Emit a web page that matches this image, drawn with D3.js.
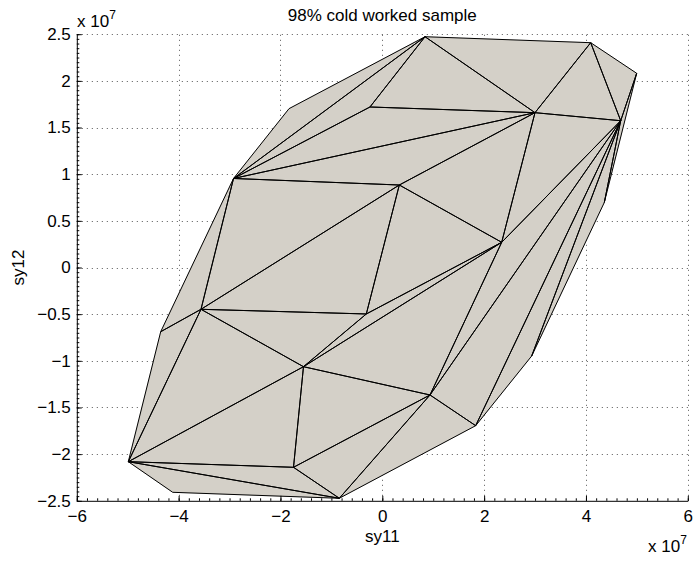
<!DOCTYPE html>
<html>
<head>
<meta charset="utf-8">
<script src="https://cdn.jsdelivr.net/npm/d3@7"></script>
<style>
  body { margin: 0; background: #fff; }
  svg { display: block; font-family: "Liberation Sans", Arial, Helvetica, sans-serif; }
</style>
</head>
<body>
<svg id="chart" width="694" height="561"></svg>
<script>
// ---- data (units of 1e7) ----
const vertexNames = ["A","B","C","D","E","F","G","H","I","J","K","L","M","N","O","P","Q","R","S","T","U","V"];
const sy11 = [0.839, 4.093, 4.996, 4.682, 2.999, -0.242, -1.832, -2.922, 0.334, 2.345, 4.360,
              -4.352, -3.561, -0.314, -1.548, 0.937, 2.934, 1.834, -4.988, -4.116, -1.744, -0.844];
const sy12 = [2.473, 2.409, 2.081, 1.573, 1.659, 1.720, 1.702, 0.954, 0.884, 0.270, 0.697,
              -0.688, -0.448, -0.498, -1.063, -1.366, -0.948, -1.695, -2.081, -2.409, -2.141, -2.473];
const triangles = [
  "ABE","AEF","AFH","AHG","FEH","HEI","EIJ","BCD","BDE","DEJ","DJP","DPR","DRQ","DQK","DKC",
  "HIM","HML","IMN","INJ","NJO","MNO","MOS","MSL","OJP","OPU","OUS","USV","SVT","UPV","PVR"
];
const xTicks = [-6, -4, -2, 0, 2, 4, 6];
const yTicks = [-2.5, -2, -1.5, -1, -0.5, 0, 0.5, 1, 1.5, 2, 2.5];
const titleText = "98% cold worked sample";
const xLabel = "sy11";
const yLabel = "sy12";

// ---- layout ----
const L = 76.8, R = 687.8, T = 34.2, B = 500.8;
const FS = 17;
const x = d3.scaleLinear().domain([-6, 6]).range([L, R]);
const y = d3.scaleLinear().domain([-2.5, 2.5]).range([B, T]);
const svg = d3.select("#chart");
const fmt = v => (v < 0 ? "\u2212" : "") + String(Math.abs(v));

// grid (dotted)
const grid = svg.append("g").attr("stroke", "#555").attr("stroke-width", 1)
  .attr("stroke-dasharray", "1,4");
grid.selectAll("line.gx").data(xTicks.filter(t => t > -6)).enter().append("line")
  .attr("x1", d => Math.round(x(d)) + 0.5).attr("x2", d => Math.round(x(d)) + 0.5)
  .attr("y1", B).attr("y2", T);
grid.selectAll("line.gy").data(yTicks.filter(t => t > -2.5)).enter().append("line")
  .attr("y1", d => Math.round(y(d)) + 0.5).attr("y2", d => Math.round(y(d)) + 0.5)
  .attr("x1", L).attr("x2", R);

// surface
const idx = n => vertexNames.indexOf(n);
const triPts = triangles.map(t => t.split("").map(c => [x(sy11[idx(c)]), y(sy12[idx(c)])]));
const line = d3.line().curve(d3.curveLinearClosed);
svg.append("g").selectAll("path").data(triPts).enter().append("path")
  .attr("d", d => line(d)).attr("fill", "#d4d0c8").attr("stroke", "#d4d0c8").attr("stroke-width", 0.6);
svg.append("g").selectAll("path").data(triPts).enter().append("path")
  .attr("d", d => line(d)).attr("fill", "none").attr("stroke", "#000")
  .attr("stroke-width", 1).attr("stroke-linejoin", "round");

// axes (MATLAB-like: inward ticks, minor ticks)
const xAxis = d3.axisBottom(x).tickValues(xTicks).tickFormat(fmt).tickSizeInner(-5).tickSizeOuter(0).tickPadding(9);
const yAxis = d3.axisLeft(y).tickValues(yTicks).tickFormat(fmt).tickSizeInner(-5).tickSizeOuter(0).tickPadding(6);
const gx = svg.append("g").attr("transform", `translate(0,${B})`).call(xAxis);
const gy = svg.append("g").attr("transform", `translate(${L},0)`).call(yAxis);
[gx, gy].forEach(g => {
  g.selectAll("text").attr("font-size", FS).attr("fill", "#000").attr("font-family", "Liberation Sans, Arial, sans-serif");
  g.selectAll("line, path").attr("stroke", "#000");
});
gx.selectAll("text").attr("dy", "0.71em");
// minor ticks
const xMinor = d3.range(-6, 6.0001, 0.2).map(v => +v.toFixed(2));
const yMinor = d3.range(-2.5, 2.5001, 0.05).map(v => +v.toFixed(3));
svg.append("g").call(d3.axisBottom(x).tickValues(xMinor).tickFormat("").tickSizeInner(-2.5).tickSizeOuter(0))
  .attr("transform", `translate(0,${B})`).call(g => g.select(".domain").remove());
svg.append("g").call(d3.axisLeft(y).tickValues(yMinor).tickFormat("").tickSizeInner(-2.5).tickSizeOuter(0))
  .attr("transform", `translate(${L},0)`).call(g => g.select(".domain").remove());

// texts
svg.append("text").attr("x", (L + R) / 2).attr("y", 21).attr("text-anchor", "middle")
  .attr("font-size", FS).text(titleText);
svg.append("text").attr("x", (L + R) / 2).attr("y", 542).attr("text-anchor", "middle")
  .attr("font-size", FS).text(xLabel);
svg.append("text").attr("transform", `translate(24,${(T + B) / 2}) rotate(-90)`).attr("text-anchor", "middle")
  .attr("font-size", FS).text(yLabel);
// exponent labels
function expLabel(px, py) {
  const t = svg.append("text").attr("x", px).attr("y", py).attr("font-size", FS);
  t.append("tspan").text("x 10");
  t.append("tspan").attr("dy", -8).attr("font-size", 12).text("7");
}
expLabel(77, 27);
expLabel(648, 552);
</script>
</body>
</html>
